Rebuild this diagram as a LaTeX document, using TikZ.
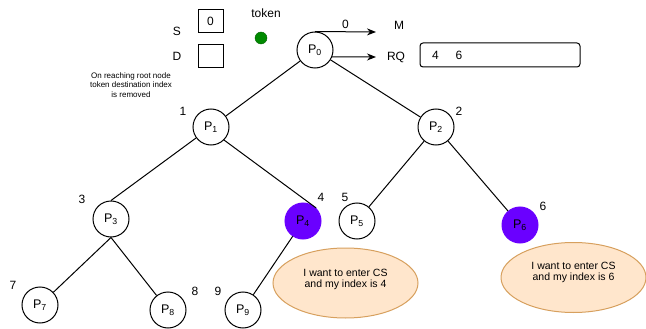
\documentclass[tikz,border=0pt]{standalone}
\usepackage{fontspec}
\setmainfont{Liberation Sans}
\usetikzlibrary{arrows.meta,shapes.geometric}
\definecolor{peachfill}{HTML}{FFE6CC}
\definecolor{peachline}{HTML}{D7A05E}
\definecolor{violetfill}{HTML}{6A00FF}
\definecolor{tokengreen}{HTML}{008A00}
\begin{document}
\begin{tikzpicture}[x=1pt,y=-1pt,
  proc/.style={circle,draw,line width=1pt,minimum size=36pt,inner sep=0pt,
    font=\fontsize{12.5}{14}\selectfont},
  busy/.style={proc,fill=violetfill,draw=violetfill},
  idx/.style={font=\fontsize{12}{14}\selectfont,inner sep=0pt},
  note/.style={font=\fontsize{8}{9.5}\selectfont,align=center,inner sep=0pt},
  wish/.style={ellipse,draw=peachline,fill=peachfill,line width=1pt,
    minimum width=145pt,minimum height=70pt,inner sep=0pt},
  wishtext/.style={font=\fontsize{10.5}{11}\selectfont,align=center},
  reg/.style={draw,line width=1pt,minimum width=25pt,minimum height=23pt,inner sep=0pt,
    font=\fontsize{12}{14}\selectfont},
  edge/.style={line width=1pt},
  msg/.style={line width=1pt,-{Stealth[length=9pt,width=7pt]}}
]
\useasboundingbox (0,0) rectangle (646,329);

% processes of the tree
\node[proc] (P0) at (315,50)  {P\textsubscript{0}};
\node[proc] (P1) at (211,127) {P\textsubscript{1}};
\node[proc] (P2) at (436,127) {P\textsubscript{2}};
\node[proc] (P3) at (111,219) {P\textsubscript{3}};
\node[busy] (P4) at (303,221) {P\textsubscript{4}};
\node[proc] (P5) at (357,221) {P\textsubscript{5}};
\node[busy] (P6) at (520,225) {P\textsubscript{6}};
\node[proc] (P7) at (40,305)  {P\textsubscript{7}};
\node[proc] (P8) at (168,310) {P\textsubscript{8}};
\node[proc] (P9) at (243,310) {P\textsubscript{9}};

% tree edges
\draw[edge] (P0) -- (P1);
\draw[edge] (P0) -- (P2);
\draw[edge] (P1) -- (P3.north);
\draw[edge] (P1.-45) -- (P4.45);
\draw[edge] (P2) -- (P5);
\draw[edge] (P2) -- (P6);
\draw[edge] (P3.south) -- (P7);
\draw[edge] (P3.south) -- (P8);
\draw[edge] (P4) -- (P9);

% process indices
\node[idx] (i0) at (183,111) {1};
\node[idx] (i2) at (459,111) {2};
\node[idx] (i3) at (82,199)  {3};
\node[idx] (i4) at (321,197) {4};
\node[idx] (i5) at (345,197) {5};
\node[idx] (i6) at (543,206) {6};
\node[idx] (i7) at (13,285)  {7};
\node[idx] (i8) at (195,291) {8};
\node[idx] (i9) at (218,291) {9};

% source / destination registers and the token
\node[idx] (Slab) at (177,31) {S};
\node[idx] (Dlab) at (177,56) {D};
\node[reg] (Sbox) at (210.5,21.5) {0};
\node[reg] (Dbox) at (210.5,56.5) {};
\node[idx] (toklab) at (266,13) {token};
\node[circle,fill=tokengreen,draw=tokengreen!70!black,minimum size=12pt,inner sep=0pt] (tok) at (261,38) {};
\node[note] (rootnote) at (131,85) {On reaching root node\\token destination index\\is removed};

% messages leaving the root
\node[idx] (M) at (399,25) {M};
\node[idx] (RQ) at (396,57) {RQ};
\coordinate (mtip) at (376,32);
\coordinate (rqtip) at (376,57);
\draw[msg] (P0.north) -- node[idx,above=3pt] {0} (mtip);
\draw[msg] (P0.-22) -- (rqtip);
\node[draw,line width=1pt,rounded corners=3pt,minimum height=24pt,text width=150pt,
  inner xsep=5pt,inner ysep=0pt,align=left,font=\fontsize{12}{14}\selectfont] (queue) at (500,55)
  {\hspace*{7pt}4\hspace{17pt}6};

% requests for the critical section
\node[wish,label={[wishtext,yshift=4pt]center:I want to enter CS\\and my index is 4}] (w4) at (345.5,283) {};
\node[wish,label={[wishtext,yshift=5pt]center:I want to enter CS\\and my index is 6}] (w6) at (573.5,277.5) {};
\end{tikzpicture}
\end{document}
